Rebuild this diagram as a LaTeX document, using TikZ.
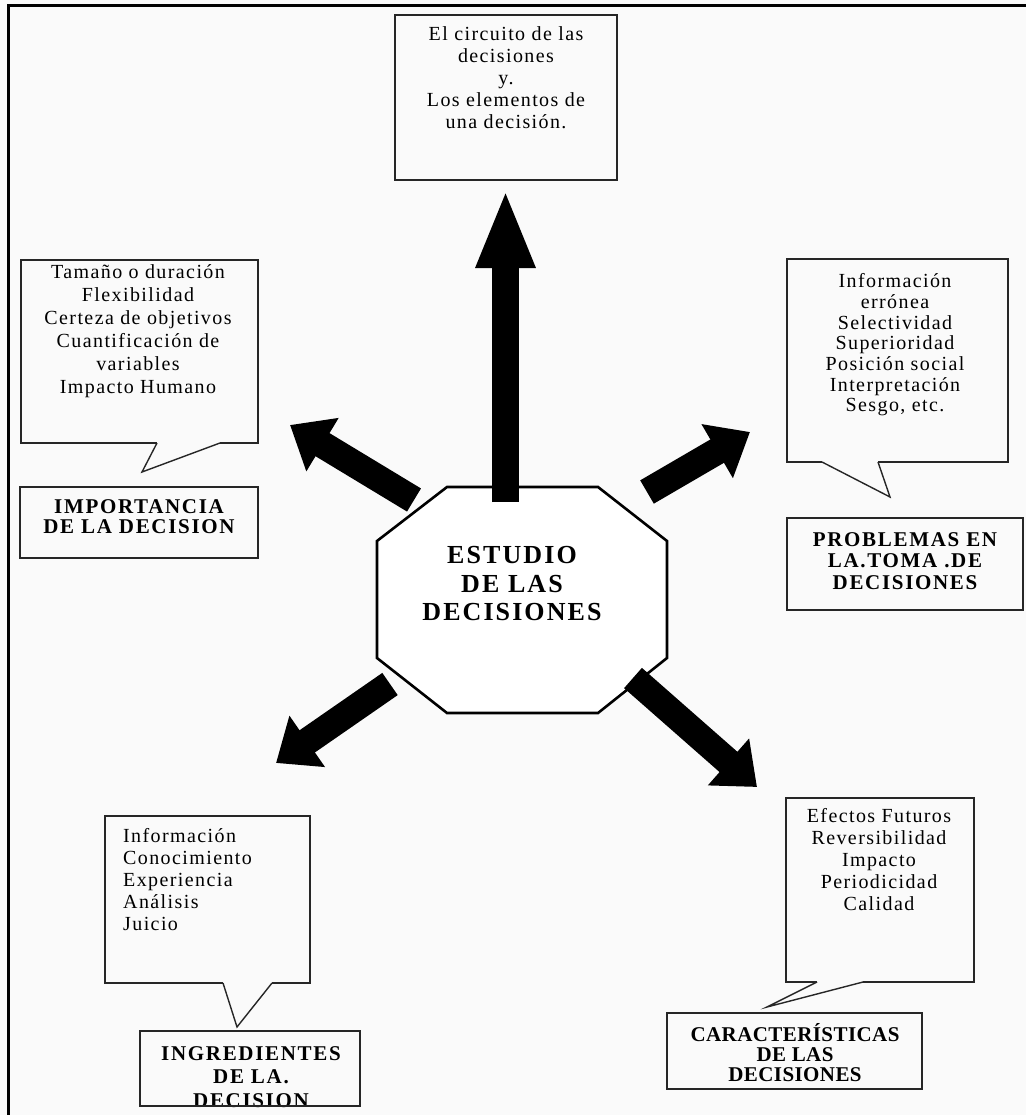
\documentclass[tikz,border=0pt]{standalone}
\usepackage{fontspec}
\setmainfont{Liberation Serif}
\newfontfamily\bodyfont[LetterSpace=7]{Liberation Serif}
\newfontfamily\capsfont[LetterSpace=8]{Liberation Serif}
\usetikzlibrary{arrows.meta}

\tikzset{
  boxline/.style={draw=black!85, line width=2.4pt},
  tipline/.style={draw=black!85, line width=1.4pt},
  itemtext/.style={font=\bodyfont\fontsize{20}{22}\selectfont, align=center, inner sep=0pt},
  titletext/.style={font=\capsfont\bfseries\fontsize{21}{21.5}\selectfont, align=center, inner sep=0pt},
  bigarrow/.style={line width=27pt, black, -{Triangle[length=38pt,width=60pt]}},
}

\begin{document}
\begin{tikzpicture}[x=1pt,y=-1pt]
    \fill[black!2] (0,0) rectangle (1026,1115);
    \useasboundingbox (0,0) rectangle (1026,1115);
    \draw[line width=3pt] (8.5,1115) -- (8.5,6) -- (1026,6);% frame

    \coordinate (TopTail)  at (505.5,502);
    \coordinate (TopTip)   at (505.5,189);
    \coordinate (ImpTail)  at (414,500);
    \coordinate (ImpTip)   at (290,425);
    \coordinate (ProbTail) at (647,492);
    \coordinate (ProbTip)  at (750,432);
    \coordinate (IngTail)  at (390,684);
    \coordinate (IngTip)   at (276,763);
    \coordinate (CarTail)  at (633,678);
    \coordinate (CarTip)   at (757,787);
    \coordinate (ImpPtr)   at (142,472);
    \coordinate (ProbPtr)  at (890,497);
    \coordinate (IngPtr)   at (237,1027);
    \coordinate (CarPtr)   at (767,1007);

    % centre
    \draw[line width=2.6pt, fill=white] (447,487) -- (598,487) -- (667,541) -- (667,658)
        -- (598,713) -- (447,713) -- (377,658) -- (377,541) -- cycle;
    \node[font=\capsfont\bfseries\fontsize{26}{28.5}\selectfont, align=center, inner sep=0pt] (Estudio) at (512,584) {ESTUDIO\\DE LAS\\DECISIONES};

    \draw[bigarrow, -{Triangle[length=79pt,width=54pt]}] (TopTail) -- (TopTip);
    \draw[bigarrow] (ImpTail) -- (ImpTip);
    \draw[bigarrow] (ProbTail) -- (ProbTip);
    \draw[bigarrow] (IngTail) -- (IngTip);
    \draw[bigarrow] (CarTail) -- (CarTip);

    % top
    \draw[boxline] (395,15) rectangle (617,180);
    \node[itemtext] (Circuito) at (506,78) {El circuito de las\\decisiones\\y.\\Los elementos de\\una decisión.};

    % left
    \node[itemtext, font=\bodyfont\fontsize{20}{23}\selectfont] (ImpItems) at (138,331) {Tamaño o duración\\Flexibilidad\\Certeza de objetivos\\Cuantificación de\\variables\\Impacto Humano};
    \draw[boxline] (157,443) -- (21,443) -- (21,260) -- (258,260) -- (258,443) -- (220,443);
    \draw[tipline] (157,443) -- (ImpPtr) -- (220,443);
    \node[titletext, font=\capsfont\bfseries\fontsize{21}{20}\selectfont] (Imp) at (139,517) {IMPORTANCIA\\DE LA DECISION};
    \draw[boxline] (20,487) rectangle (258,558);

    % right
    \node[itemtext, font=\bodyfont\fontsize{20}{20.7}\selectfont] (ProbItems) at (895,345) {Información\\errónea\\Selectividad\\Superioridad\\Posición social\\Interpretación\\Sesgo, etc.};
    \draw[boxline] (822,462) -- (787,462) -- (787,259) -- (1008,259) -- (1008,462) -- (878,462);
    \draw[tipline] (822,462) -- (ProbPtr) -- (878,462);
    \node[titletext] (Prob) at (905,561) {PROBLEMAS EN\\LA.TOMA .DE\\DECISIONES};
    \draw[boxline] (787,518) rectangle (1023,610);

    % bottom left
    \node[itemtext, align=left, anchor=west] (IngItems) at (123,879.5) {Información\\Conocimiento\\Experiencia\\Análisis\\Juicio};
    \draw[boxline] (223,983) -- (105,983) -- (105,816) -- (310,816) -- (310,983) -- (272,983);
    \draw[tipline] (223,983) -- (IngPtr) -- (272,983);
    \node[titletext, font=\capsfont\bfseries\fontsize{21}{23.5}\selectfont] (Ing) at (251,1077) {INGREDIENTES\\DE LA.\\DECISION};
    \draw[boxline] (140,1031) rectangle (360,1106);

    % bottom right
    \node[itemtext] (CarItems) at (879,860) {Efectos Futuros\\Reversibilidad\\Impacto\\Periodicidad\\Calidad};
    \draw[boxline] (817,982) -- (786,982) -- (786,798) -- (974,798) -- (974,982) -- (863,982);
    \draw[tipline] (817,982) -- (CarPtr) -- (863,982);
    \node[titletext, font=\capsfont\bfseries\addfontfeature{LetterSpace=2}\fontsize{21}{20}\selectfont] (Car) at (795,1053) {CARACTERÍSTICAS\\DE LAS\\DECISIONES};
    \draw[boxline] (667,1013) rectangle (922,1089);
\end{tikzpicture}
\end{document}
